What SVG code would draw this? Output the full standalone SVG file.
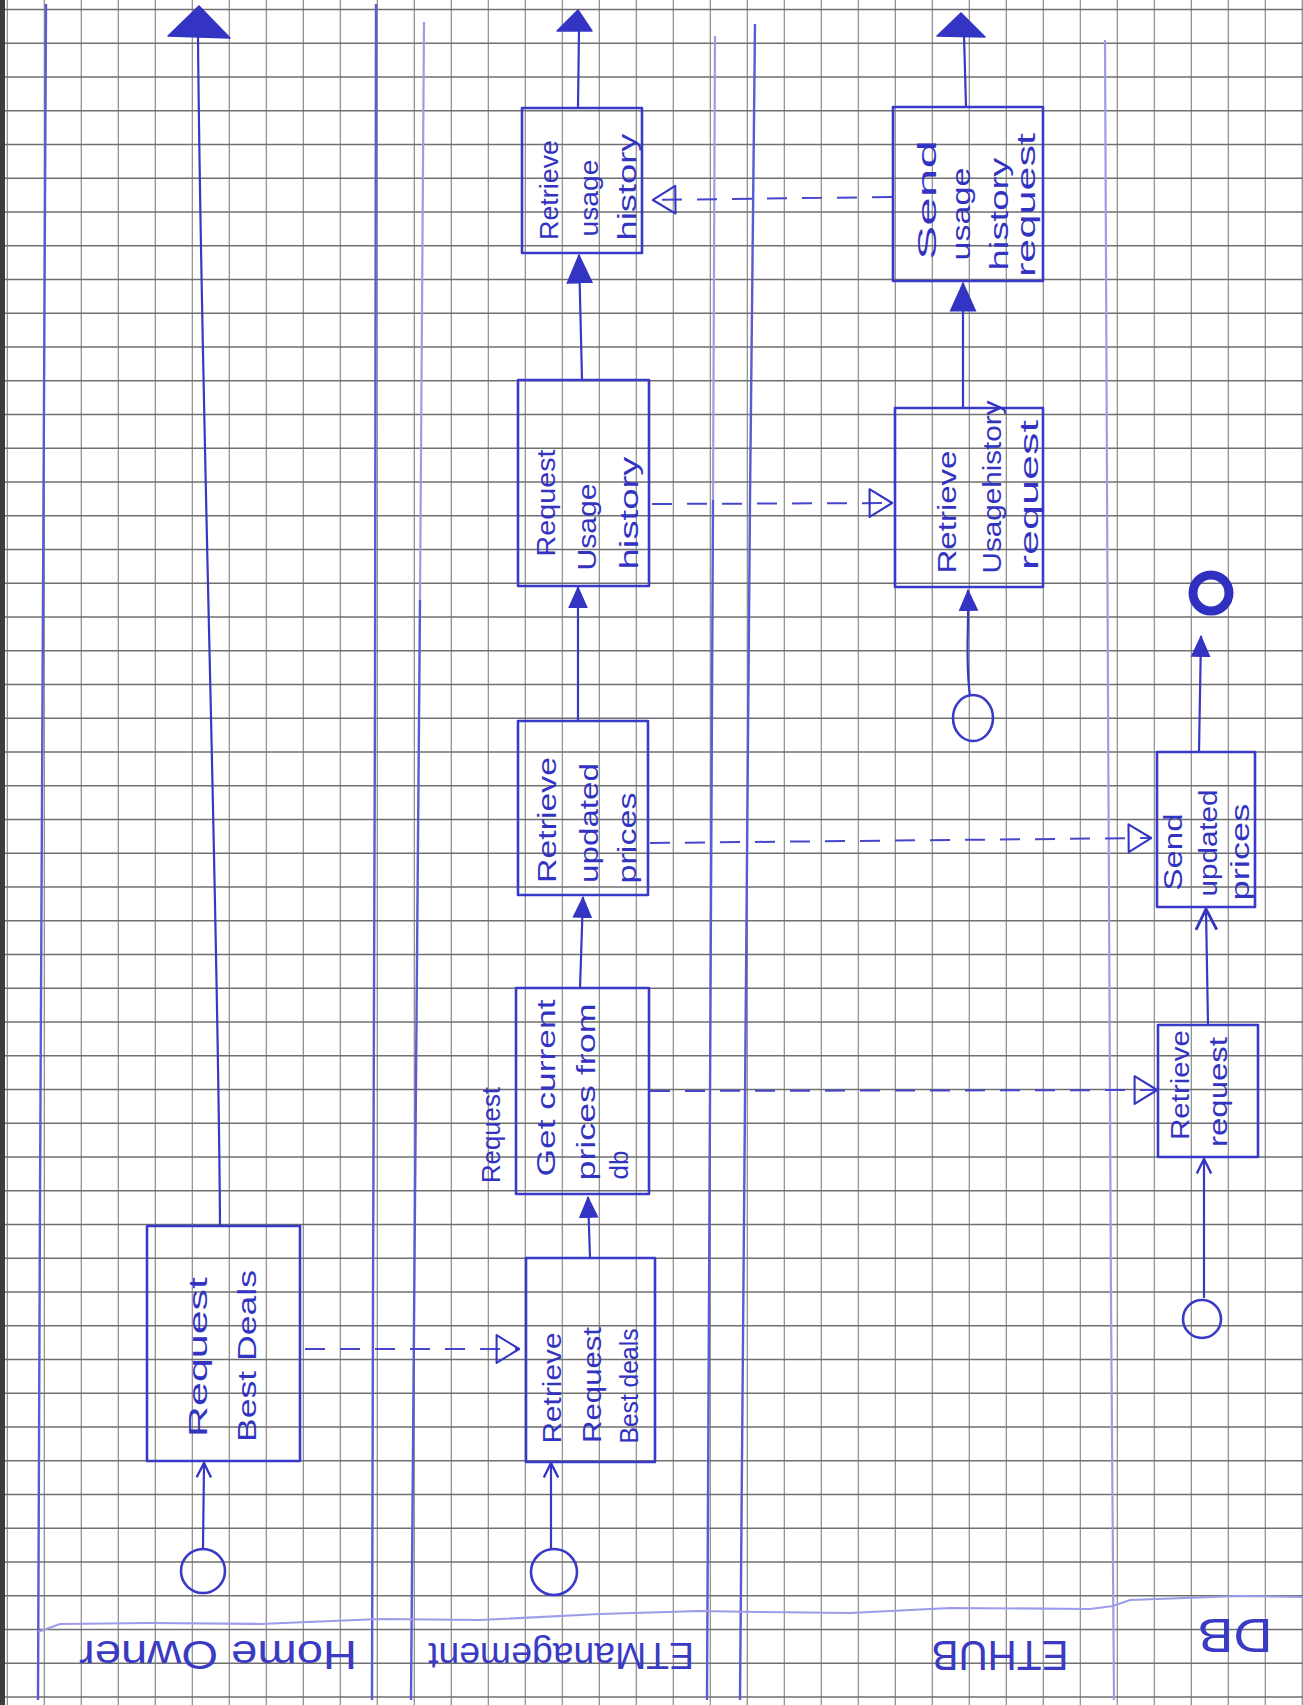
<svg xmlns="http://www.w3.org/2000/svg" width="1303" height="1705" viewBox="0 0 1303 1705">
<defs>
<style>
.box{fill:none;stroke:#3a3ac8;stroke-width:2.6;stroke-linejoin:round}
.t{fill:#3333c2;font-family:"Liberation Sans","DejaVu Sans",sans-serif;font-size:26px}
.lbl{fill:#3a3ac4;font-family:"Liberation Sans","DejaVu Sans",sans-serif}
.seq{fill:none;stroke:#3838c6;stroke-width:2.2}
.msg{fill:none;stroke:#4646cc;stroke-width:2;stroke-dasharray:20 15}
.ev{fill:none;stroke:#3a3ac8;stroke-width:2.6}
.laneD{fill:none;stroke:#5a5ad4;stroke-width:2.4}
.laneL{fill:none;stroke:#9c9cea;stroke-width:2.2}
.head{fill:#3434c4;stroke:#3434c4;stroke-width:1.5;stroke-linejoin:round}
.gv{fill:none;stroke:#8a8a8a;stroke-width:1.2}
.gh{fill:none;stroke:#707070;stroke-width:1.5}
</style>
<marker id="arrFill" viewBox="0 0 20 20" refX="19" refY="10" markerWidth="22" markerHeight="22" markerUnits="userSpaceOnUse" orient="auto">
<path d="M0,1 L20,10 L0,19 Z" fill="#3434c4"/>
</marker>
<marker id="arrFillBig" viewBox="0 0 20 20" refX="19" refY="10" markerWidth="30" markerHeight="30" markerUnits="userSpaceOnUse" orient="auto">
<path d="M0,1 L20,10 L0,19 Z" fill="#3434c4"/>
</marker>
<marker id="arrOpen" viewBox="0 0 20 20" refX="18" refY="10" markerWidth="18" markerHeight="18" markerUnits="userSpaceOnUse" orient="auto">
<path d="M2,2 L18,10 L2,18" fill="none" stroke="#3434c4" stroke-width="2.6"/>
</marker>
<marker id="arrOpenBig" viewBox="0 0 20 20" refX="18" refY="10" markerWidth="26" markerHeight="26" markerUnits="userSpaceOnUse" orient="auto">
<path d="M2,2 L18,10 L2,18" fill="none" stroke="#3434c4" stroke-width="2.2"/>
</marker>
<marker id="msgArr" viewBox="0 0 30 36" refX="29" refY="18" markerWidth="26" markerHeight="32" markerUnits="userSpaceOnUse" orient="auto">
<path d="M2,2 L28,18 L2,34 Z" fill="none" stroke="#3434c4" stroke-width="2.4" stroke-linejoin="round"/>
</marker>
</defs>

<rect x="0" y="0" width="1303" height="1705" fill="#ffffff"/>
<g id="graph-paper">
<path class="gv" d="M7.3,0V1705M44.3,0V1705M81.3,0V1705M118.3,0V1705M155.3,0V1705M192.3,0V1705M229.3,0V1705M266.3,0V1705M303.3,0V1705M340.3,0V1705M377.3,0V1705M414.3,0V1705M451.3,0V1705M488.3,0V1705M525.3,0V1705M562.3,0V1705M599.3,0V1705M636.3,0V1705M673.3,0V1705M710.3,0V1705M747.3,0V1705M784.3,0V1705M821.3,0V1705M858.3,0V1705M895.3,0V1705M932.3,0V1705M969.3,0V1705M1006.3,0V1705M1043.3,0V1705M1080.3,0V1705M1117.3,0V1705M1154.3,0V1705M1191.3,0V1705M1228.3,0V1705M1265.3,0V1705M1302.3,0V1705"/>
<path class="gh" d="M0,9.5H1303M0,43.25H1303M0,77H1303M0,110.75H1303M0,144.5H1303M0,178.25H1303M0,212H1303M0,245.75H1303M0,279.5H1303M0,313.25H1303M0,347H1303M0,380.75H1303M0,414.5H1303M0,448.25H1303M0,482H1303M0,515.75H1303M0,549.5H1303M0,583.25H1303M0,617H1303M0,650.75H1303M0,684.5H1303M0,718.25H1303M0,752H1303M0,785.75H1303M0,819.5H1303M0,853.25H1303M0,887H1303M0,920.75H1303M0,954.5H1303M0,988.25H1303M0,1022H1303M0,1055.75H1303M0,1089.5H1303M0,1123.25H1303M0,1157H1303M0,1190.75H1303M0,1224.5H1303M0,1258.25H1303M0,1292H1303M0,1325.75H1303M0,1359.5H1303M0,1393.25H1303M0,1427H1303M0,1460.75H1303M0,1494.5H1303M0,1528.25H1303M0,1562H1303M0,1595.75H1303M0,1629.5H1303M0,1663.25H1303M0,1697H1303"/>
<rect x="0" y="0" width="5" height="1705" fill="#3c3c3c"/>
</g>

<g id="lane-dividers">
<path class="laneD" d="M46,4 L43,600 L40,1200 L38,1700"/>
<path class="laneD" d="M376,4 L375,700 L373,1300 L372,1700"/>
<path class="laneL" d="M424,22 L420,600"/>
<path class="laneD" d="M420,600 L415,1200 L411,1700"/>
<path class="laneL" d="M715,36 L713,500"/>
<path class="laneD" d="M713,500 L710,1100 L707,1700"/>
<path class="laneD" d="M755,24 L750,500 L745,1100 L740,1700"/>
<path class="laneL" d="M1105,40 L1108,700 L1111,1300 L1114,1700"/>
<path class="laneL" d="M38,1632 L60,1624 L150,1623 L260,1624 L380,1619 L480,1620 L600,1614 L700,1611 L760,1612 L850,1613 L950,1608 L1090,1609 L1113,1606 L1130,1600 L1240,1596 L1303,1597"/>
</g>

<g id="lane-home-owner">
<text class="lbl" font-size="40" text-anchor="middle" textLength="278" lengthAdjust="spacingAndGlyphs" transform="translate(218,1641) rotate(180)">Home Owner</text>
</g>
<g id="lane-etmanagement">
<text class="lbl" font-size="36" text-anchor="middle" textLength="266" lengthAdjust="spacingAndGlyphs" transform="translate(561,1643) rotate(180)">ETManagement</text>
</g>
<g id="lane-ethub">
<text class="lbl" font-size="42" text-anchor="middle" textLength="137" lengthAdjust="spacingAndGlyphs" transform="translate(1000,1641) rotate(180)">ETHUB</text>
</g>
<g id="lane-db">
<text class="lbl" font-size="48" text-anchor="middle" textLength="75" lengthAdjust="spacingAndGlyphs" transform="translate(1235,1619) rotate(180)">DB</text>
</g>

<g id="connectors">
<path class="seq" d="M203,1548 L204,1463" marker-end="url(#arrOpen)"/>
<path class="seq" d="M220,1226 C218,900 201,400 198,36"/>
<polygon class="head" points="199,6 230,38 168,36"/>
<path class="seq" d="M551,1549 L551,1463" marker-end="url(#arrOpen)"/>
<path class="seq" d="M590,1258 L588,1197" marker-end="url(#arrFill)"/>
<path class="seq" d="M580,988 L583,897" marker-end="url(#arrFill)"/>
<path class="seq" d="M578,721 L578,587" marker-end="url(#arrFill)"/>
<path class="seq" d="M582,380 L579,255" marker-end="url(#arrFillBig)"/>
<path class="seq" d="M578,108 L579,29"/>
<polygon class="head" points="578,10 592,31 557,31"/>
<path class="seq" d="M970,696 C965,660 969,630 968,590" marker-end="url(#arrFill)"/>
<path class="seq" d="M963,408 L963,283" marker-end="url(#arrFillBig)"/>
<path class="seq" d="M966,107 L964,35"/>
<polygon class="head" points="961,13 985,37 937,36"/>
<path class="seq" d="M1204,1298 L1204,1159" marker-end="url(#arrOpen)"/>
<path class="seq" d="M1208,1025 L1206,909" marker-end="url(#arrOpenBig)"/>
<path class="seq" d="M1199,752 L1201,636" marker-end="url(#arrFill)"/>
<path class="msg" d="M305,1349 L520,1349" marker-end="url(#msgArr)"/>
<path class="msg" d="M650,1091 L1158,1090" marker-end="url(#msgArr)"/>
<path class="msg" d="M650,843 L1152,838" marker-end="url(#msgArr)"/>
<path class="msg" d="M652,504 L893,503" marker-end="url(#msgArr)"/>
<path class="msg" d="M892,197 L652,200" marker-end="url(#msgArr)"/>
</g>

<g id="start-home-owner"><circle class="ev" cx="203" cy="1571" r="22"/></g>
<g id="start-etmanagement"><circle class="ev" cx="554" cy="1572" r="23"/></g>
<g id="start-ethub"><ellipse class="ev" cx="973" cy="718" rx="20" ry="23"/></g>
<g id="start-db"><circle class="ev" cx="1202" cy="1319" r="19"/></g>
<g id="end-db"><circle cx="1211" cy="593" r="18" fill="none" stroke="#3030c0" stroke-width="9"/></g>

<g id="task-request-best-deals">
<rect class="box" x="147" y="1226" width="153" height="235"/>
<text class="t" font-size="30" text-anchor="middle" textLength="160" lengthAdjust="spacingAndGlyphs" transform="translate(207,1357) rotate(-90)">Request</text>
<text class="t" font-size="30" text-anchor="middle" textLength="172" lengthAdjust="spacingAndGlyphs" transform="translate(256,1356) rotate(-90)">Best Deals</text>
</g>

<g id="task-retrieve-request-best-deals">
<rect class="box" x="526" y="1258" width="129" height="204"/>
<text class="t" text-anchor="middle" textLength="111" lengthAdjust="spacingAndGlyphs" transform="translate(561,1388) rotate(-90)">Retrieve</text>
<text class="t" text-anchor="middle" textLength="116" lengthAdjust="spacingAndGlyphs" transform="translate(601,1385) rotate(-90)">Request</text>
<text class="t" font-size="20" text-anchor="middle" textLength="115" lengthAdjust="spacingAndGlyphs" transform="translate(638,1386) rotate(-90)">Best deals</text>
</g>

<g id="task-get-current-prices">
<rect class="box" x="516" y="988" width="133" height="206"/>
<text class="t" text-anchor="middle" textLength="177" lengthAdjust="spacingAndGlyphs" transform="translate(555,1088) rotate(-90)">Get current</text>
<text class="t" text-anchor="middle" textLength="177" lengthAdjust="spacingAndGlyphs" transform="translate(595,1092) rotate(-90)">prices from</text>
<text class="t" text-anchor="middle" transform="translate(628,1165) rotate(-90)">db</text>
<text class="t" font-size="22" text-anchor="middle" textLength="96" lengthAdjust="spacingAndGlyphs" transform="translate(500,1135) rotate(-90)">Request</text>
</g>

<g id="task-retrieve-updated-prices">
<rect class="box" x="518" y="721" width="130" height="174"/>
<text class="t" text-anchor="middle" textLength="126" lengthAdjust="spacingAndGlyphs" transform="translate(556,820) rotate(-90)">Retrieve</text>
<text class="t" text-anchor="middle" textLength="120" lengthAdjust="spacingAndGlyphs" transform="translate(598,823) rotate(-90)">updated</text>
<text class="t" text-anchor="middle" textLength="91" lengthAdjust="spacingAndGlyphs" transform="translate(636,838) rotate(-90)">prices</text>
</g>

<g id="task-request-usage-history">
<rect class="box" x="518" y="380" width="131" height="206"/>
<text class="t" text-anchor="middle" textLength="107" lengthAdjust="spacingAndGlyphs" transform="translate(555,503) rotate(-90)">Request</text>
<text class="t" text-anchor="middle" textLength="87" lengthAdjust="spacingAndGlyphs" transform="translate(596,527) rotate(-90)">Usage</text>
<text class="t" text-anchor="middle" textLength="113" lengthAdjust="spacingAndGlyphs" transform="translate(638,513) rotate(-90)">history</text>
</g>

<g id="task-retrieve-usage-history">
<rect class="box" x="522" y="108" width="120" height="145"/>
<text class="t" text-anchor="middle" textLength="100" lengthAdjust="spacingAndGlyphs" transform="translate(558,190) rotate(-90)">Retrieve</text>
<text class="t" text-anchor="middle" textLength="77" lengthAdjust="spacingAndGlyphs" transform="translate(598,198) rotate(-90)">usage</text>
<text class="t" text-anchor="middle" textLength="107" lengthAdjust="spacingAndGlyphs" transform="translate(636,187) rotate(-90)">history</text>
</g>

<g id="task-retrieve-usagehistory-request">
<rect class="box" x="895" y="408" width="148" height="179"/>
<text class="t" text-anchor="middle" textLength="123" lengthAdjust="spacingAndGlyphs" transform="translate(956,512) rotate(-90)">Retrieve</text>
<text class="t" text-anchor="middle" textLength="173" lengthAdjust="spacingAndGlyphs" transform="translate(1001,487) rotate(-90)">Usagehistory</text>
<text class="t" text-anchor="middle" textLength="150" lengthAdjust="spacingAndGlyphs" transform="translate(1038,495) rotate(-90)">request</text>
</g>

<g id="task-send-usage-history-request">
<rect class="box" x="893" y="107" width="150" height="174"/>
<text class="t" font-size="30" text-anchor="middle" textLength="120" lengthAdjust="spacingAndGlyphs" transform="translate(936,200) rotate(-90)">Send</text>
<text class="t" text-anchor="middle" textLength="93" lengthAdjust="spacingAndGlyphs" transform="translate(970,214) rotate(-90)">usage</text>
<text class="t" text-anchor="middle" textLength="113" lengthAdjust="spacingAndGlyphs" transform="translate(1008,214) rotate(-90)">history</text>
<text class="t" text-anchor="middle" textLength="144" lengthAdjust="spacingAndGlyphs" transform="translate(1035,205) rotate(-90)">request</text>
</g>

<g id="task-send-updated-prices">
<rect class="box" x="1157" y="752" width="98" height="155"/>
<text class="t" font-size="22" text-anchor="middle" textLength="77" lengthAdjust="spacingAndGlyphs" transform="translate(1182,852) rotate(-90)">Send</text>
<text class="t" font-size="22" text-anchor="middle" textLength="107" lengthAdjust="spacingAndGlyphs" transform="translate(1217,843) rotate(-90)">updated</text>
<text class="t" font-size="22" text-anchor="middle" textLength="97" lengthAdjust="spacingAndGlyphs" transform="translate(1249,852) rotate(-90)">prices</text>
</g>

<g id="task-retrieve-request">
<rect class="box" x="1158" y="1025" width="100" height="132"/>
<text class="t" font-size="24" text-anchor="middle" textLength="110" lengthAdjust="spacingAndGlyphs" transform="translate(1189,1085) rotate(-90)">Retrieve</text>
<text class="t" font-size="24" text-anchor="middle" textLength="110" lengthAdjust="spacingAndGlyphs" transform="translate(1227,1092) rotate(-90)">request</text>
</g>
</svg>
